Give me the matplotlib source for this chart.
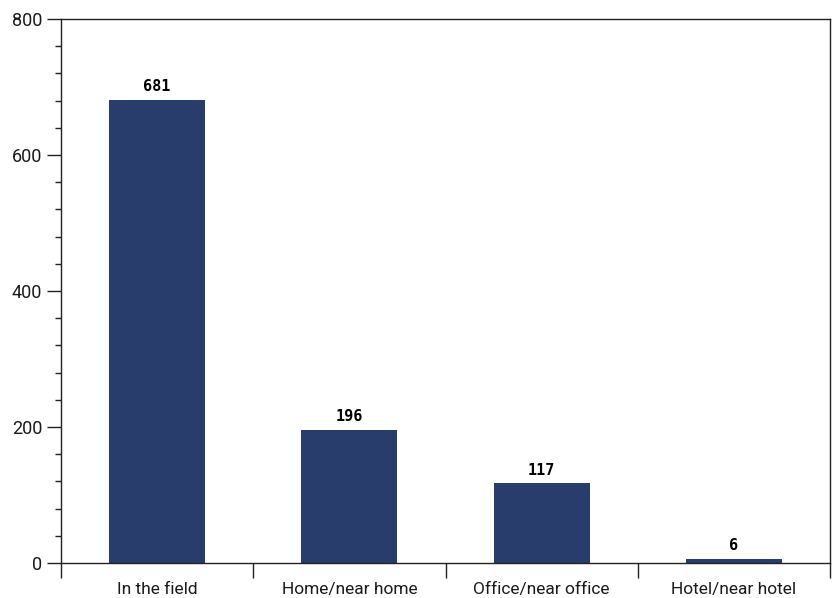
import numpy as np
import matplotlib
matplotlib.use('Agg')
import matplotlib.pyplot as plt
from matplotlib.ticker import MultipleLocator

# Data
categories = ['In the field', 'Home/near home', 'Office/near office', 'Hotel/near hotel']
counts = [681, 196, 117, 6]

plt.rcParams['font.family'] = ['Roboto', 'DejaVu Sans']

fig = plt.figure(figsize=(8.32, 5.98), dpi=100)
ax = fig.add_axes([61/832, 1 - 563/598, (830 - 61)/832, (563 - 19)/598])

x = np.arange(len(categories))
ax.bar(x, counts, width=0.5, color='#283d6b', zorder=2)

for xi, v in zip(x, counts):
    ax.text(xi, v + 8, str(v), ha='center', va='bottom', fontsize=11,
            fontweight='bold', family='DejaVu Sans Mono')

ax.set_xlim(-0.5, len(categories) - 0.5)
ax.set_ylim(0, 800)

# category boundaries as major ticks, names on minor ticks
ax.set_xticks(np.arange(-0.5, len(categories)), labels=[])
ax.set_xticks(x, labels=categories, minor=True)
ax.tick_params(axis='x', which='major', direction='out', length=11, width=1, color='#222222')
ax.tick_params(axis='x', which='minor', length=0, labelsize=12.5, pad=14, labelcolor='#1a1a1a')

ax.yaxis.set_major_locator(MultipleLocator(200))
ax.yaxis.set_minor_locator(MultipleLocator(40))
ax.tick_params(axis='y', which='major', direction='out', length=10, width=1, labelsize=13,
               color='#222222', labelcolor='#1a1a1a')
ax.tick_params(axis='y', which='minor', direction='out', length=4, width=1, color='#222222')

for s in ax.spines.values():
    s.set_color('#222222')
    s.set_linewidth(1)

fig.savefig('out.png', dpi=100)
